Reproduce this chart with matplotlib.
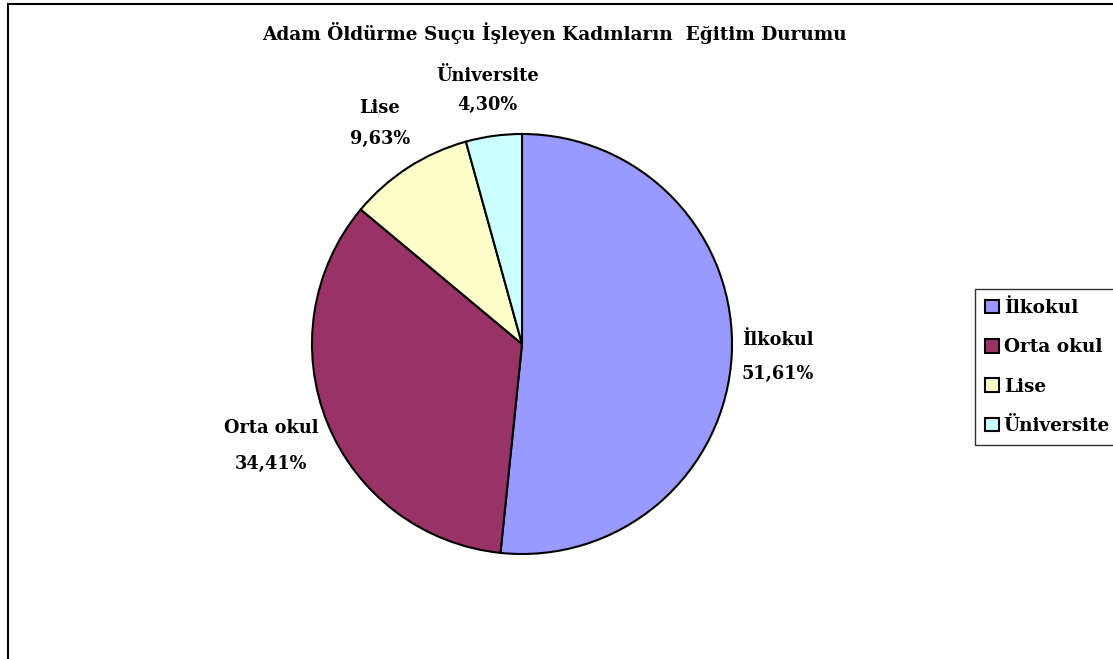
import matplotlib
matplotlib.use("Agg")
import matplotlib.pyplot as plt
import numpy as np
from matplotlib.patches import Patch
from matplotlib.lines import Line2D

categories = ["İlkokul", "Orta okul", "Lise", "Üniversite"]
values = [51.61, 34.41, 9.63, 4.30]
value_labels = ["51,61%", "34,41%", "9,63%", "4,30%"]
colors = ["#9999FF", "#993366", "#FFFFCC", "#CCFFFF"]
title = "Adam Öldürme Suçu İşleyen Kadınların  Eğitim Durumu"

plt.rcParams['font.family'] = ['DejaVu Serif']
plt.rcParams['font.weight'] = 'bold'

W, H = 1113, 659
fig = plt.figure(figsize=(W / 100, H / 100), dpi=100)

# figure border (top and left visible)
fig.add_artist(Line2D([8 / W, 8 / W], [0, 1 - 4 / H], color='black', lw=1.5, transform=fig.transFigure))
fig.add_artist(Line2D([8 / W, 1], [1 - 4 / H, 1 - 4 / H], color='black', lw=1.5, transform=fig.transFigure))

cx, cy, r = 522, 344, 210
ax = fig.add_axes([(cx - r) / W, (H - cy - r) / H, 2 * r / W, 2 * r / H])
wedges, _ = ax.pie(values, colors=colors, startangle=90, counterclock=False,
                   radius=1, wedgeprops=dict(edgecolor='black', linewidth=1.5))
ax.set_xlim(-1, 1)
ax.set_ylim(-1, 1)
ax.set_aspect('equal')
ax.axis('off')

dists = [1.22, 1.29, 1.25, 1.22]
spacings = [2.15, 2.3, 1.9, 1.8]
for w, cat, vl, d, ls in zip(wedges, categories, value_labels, dists, spacings):
    ang = np.deg2rad((w.theta1 + w.theta2) / 2)
    ax.text(d * np.cos(ang), d * np.sin(ang), f"{cat}\n{vl}", ha='center', va='center',
            fontsize=12.8, fontweight='bold', linespacing=ls, clip_on=False)

fig.text(554 / W, 1 - 33 / H, title, ha='center', va='center', fontsize=13.3, fontweight='bold')

handles = [Patch(facecolor=c, edgecolor='black', linewidth=1.5) for c in colors]
leg = fig.legend(handles, categories, loc='upper left', bbox_to_anchor=(975 / W, 1 - 289 / H),
                 frameon=True, fancybox=False, edgecolor='black', fontsize=13.3,
                 handlelength=0.75, handleheight=0.75, handletextpad=0.25,
                 labelspacing=1.15, borderpad=0.55, borderaxespad=0)
leg.get_frame().set_linewidth(1.0)

fig.savefig("out.png", dpi=100, facecolor='white')
